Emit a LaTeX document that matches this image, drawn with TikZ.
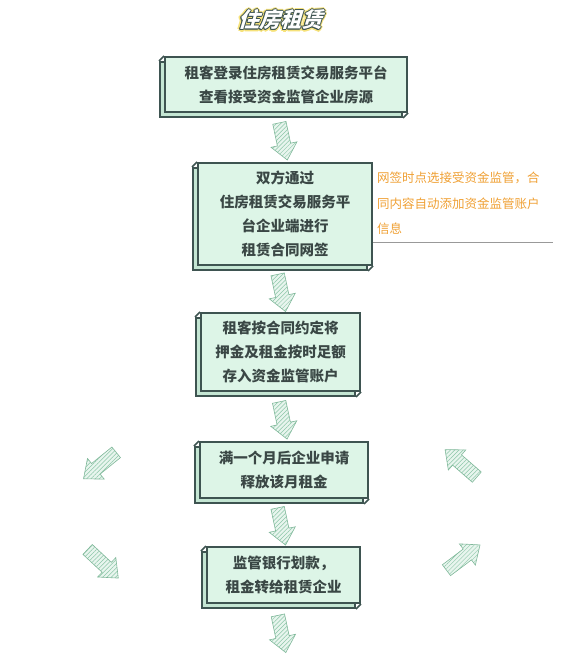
\documentclass[tikz,border=0pt]{standalone}
\usepackage{fontspec}
\newfontfamily\cjk{Noto Sans CJK SC}
\newfontfamily\titlefont{Noto Sans CJK SC}[FakeSlant=0.3]
\usetikzlibrary{shapes.arrows,shadows,patterns.meta,calc}

\definecolor{boxfill}{HTML}{DDF5E7}
\definecolor{boxedge}{HTML}{3E5451}
\definecolor{bevel}{HTML}{C4E6D3}
\definecolor{txt}{HTML}{3A4745}
\definecolor{notecol}{HTML}{EFA034}
\definecolor{arrfill}{HTML}{E8F5EE}
\definecolor{arrhatch}{HTML}{8CC6A8}
\definecolor{arredge}{HTML}{80B89A}
\definecolor{glow}{HTML}{F6E27A}

\begin{document}
\begin{tikzpicture}[
  x=1pt,y=-1pt,
  stepbox/.style={rectangle,draw=boxedge,line width=2pt,fill=boxfill,text=txt,
                  align=center,inner sep=0pt,
                  font=\cjk\bfseries\fontsize{14.5}{24}\selectfont,
                  copy shadow={shadow xshift=-5pt,shadow yshift=-5pt,
                               fill=bevel,draw=boxedge,line width=2pt}},
  bigarrow/.style={single arrow,draw=arredge,line width=0.6pt,
                   preaction={fill=arrfill},
                   pattern={Lines[angle=45,distance=3pt,line width=0.5pt]},
                   pattern color=arrhatch,
                   minimum height=38pt,
                   single arrow head extend=6.5pt,single arrow tip angle=80,
                   inner xsep=0pt,inner ysep=6.5pt},
  titletext/.style={font=\titlefont\bfseries\fontsize{21}{21}\selectfont},
  notetext/.style={align=left,inner sep=0pt,text=notecol,
                   font=\cjk\fontsize{12.5}{25.5}\selectfont},
  noteline/.style={draw=black!40,line width=0.8pt}
]
\useasboundingbox (0,0) rectangle (576,663);

% title
\coordinate (tpos) at (280,20);
\foreach \dx/\dy in {-2.5/0,2.5/0,0/-2.5,0/2.5,-1.8/-1.8,1.8/1.8,-1.8/1.8,1.8/-1.8}
  \node[titletext,text=glow] at ($(tpos)+(\dx pt,\dy pt)$) {住房租赁};
\foreach \dx/\dy in {-1/0,1/0,0/-1,0/1,-0.8/-0.8,0.8/0.8,-0.8/0.8,0.8/-0.8}
  \node[titletext,text=boxedge] at ($(tpos)+(\dx pt,\dy pt)$) {住房租赁};
\node[titletext,text=white] (title) at (tpos) {住房租赁};

% steps
\node[stepbox,minimum width=242pt,minimum height=55pt] (b1) at (286,84.5)
  {租客登录住房租赁交易服务平台\\查看接受资金监管企业房源};
\node[stepbox,minimum width=174pt,minimum height=102pt] (b2) at (285,214)
  {双方通过\\住房租赁交易服务平\\台企业端进行\\租赁合同网签};
\node[stepbox,minimum width=159pt,minimum height=78pt] (b3) at (280.5,352)
  {租客按合同约定将\\押金及租金按时足额\\存入资金监管账户};
\node[stepbox,minimum width=168pt,minimum height=56pt] (b4) at (284,470)
  {满一个月后企业申请\\释放该月租金};
\node[stepbox,minimum width=153pt,minimum height=56pt] (b5) at (283.5,575)
  {监管银行划款，\\租金转给租赁企业};

% bevel edges
\foreach \b in {b1,b2,b3,b4,b5}{
  \draw[boxedge,line width=1.5pt] (\b.north west) -- ++(-5pt,-5pt);
  \draw[boxedge,line width=1.5pt] (\b.south east) -- ++(-5pt,-5pt);
}

% note on signing
\node[notetext,anchor=north west] (note) at (377,172)
  {网签时点选接受资金监管，合\\同内容自动添加资金监管账户\\信息};
\coordinate (noteend) at (553,242);
\draw[noteline] (b2.east |- noteend) -- (noteend);

% flow arrows
\node[bigarrow,rotate=-78] (a1) at ($(b1.south)!0.5!(b2.north)+(-3,0)$) {};
\node[bigarrow,rotate=-78] (a2) at ($(b2.south)!0.5!(b3.north)+(-2,0)$) {};
\node[bigarrow,rotate=-78] (a3) at ($(b3.south)!0.5!(b4.north)+(0,0)$) {};
\node[bigarrow,rotate=-78] (a4) at ($(b4.south)!0.5!(b5.north)+(-3,0)$) {};
\node[bigarrow,rotate=-78] (a5) at (281,630) {};

% side arrows
\node[bigarrow,rotate=219,minimum height=42pt] (sl1) at (103,463) {};
\node[bigarrow,rotate=-43,minimum height=42pt] (sl2) at (100,561) {};
\node[bigarrow,rotate=139,minimum height=42pt] (sr1) at (464,466) {};
\node[bigarrow,rotate=37,minimum height=42pt] (sr2) at (460,560) {};
\end{tikzpicture}
\end{document}
